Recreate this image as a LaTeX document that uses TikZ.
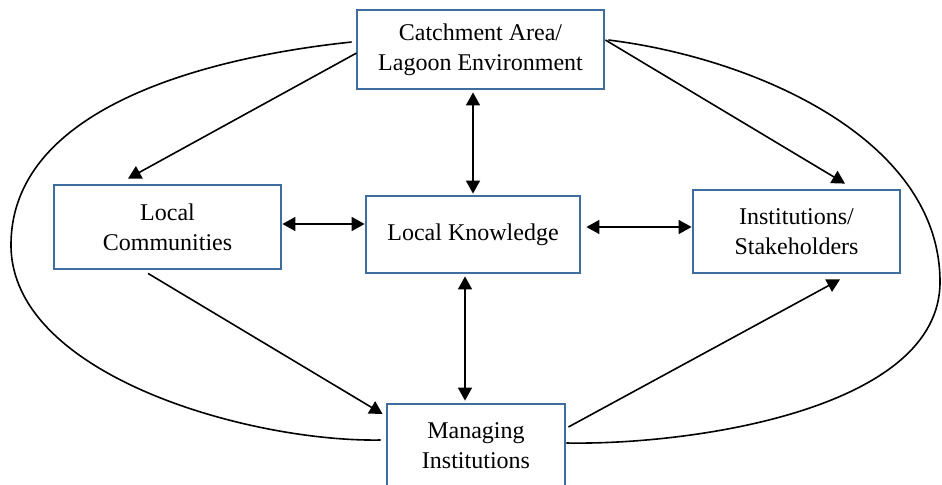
\documentclass[tikz,border=0pt]{standalone}
\usepackage{fontspec}
\setmainfont{Liberation Serif}
\usetikzlibrary{arrows.meta,calc}

\definecolor{boxblue}{RGB}{62,110,158}
\tikzset{
    block/.style={draw=boxblue, line width=1.4pt, align=center, inner sep=0pt,
        font=\fontsize{12}{15}\selectfont},
    link/.style={line width=0.8pt, -{Triangle[length=6.5pt,width=7pt]}},
    twoway/.style={line width=0.8pt, {Triangle[length=6.5pt,width=7pt]}-{Triangle[length=6.5pt,width=7pt]}},
    loop/.style={line width=0.8pt}
}

\begin{document}
\begin{tikzpicture}[x=0.5pt,y=-0.5pt]
            \useasboundingbox (0,0) rectangle (942,484);

            % Boxes
            \node [block, minimum width=123.5pt, minimum height=39.5pt] (cat)  at (480.5,49.5) {Catchment Area/\\Lagoon Environment};
            \node [block, minimum width=113.5pt, minimum height=42pt]   (lc)   at (167.5,227)  {Local\\Communities};
            \node [block, minimum width=107pt,   minimum height=38.5pt] (lk)   at (473,234.5)  {Local Knowledge};
            \node [block, minimum width=103.5pt, minimum height=41.5pt] (inst) at (796.5,231.5) {Institutions/\\Stakeholders};
            \node [block, minimum width=89pt,    minimum height=42pt]   (mi)   at (476,446)    {Managing\\Institutions};

            % Arrows
            \draw [link]   ($(cat.west)+(1,3.5)$)   -- ($(lc.north)+(-39.5,-5)$);
            \draw [link]   ($(cat.east)+(0,-9.5)$)  -- ($(inst.north)+(48.5,-5)$);
            \draw [twoway] ($(cat.south)+(-7.5,2)$) -- ($(lk.north)+(0,-1)$);
            \draw [twoway] ($(lc.east)+(0,-3)$)     -- ($(lk.west)+(0,-10.5)$);
            \draw [twoway] ($(lk.east)+(5,-7.5)$)   -- ($(inst.west)+(0,-4.5)$);
            \draw [twoway] ($(lk.south)+(-8,2)$)    -- ($(mi.north)+(-11,-2)$);
            \draw [link]   ($(lc.south)+(-19.5,3)$) -- ($(mi.west)+(-3,-32)$);
            \draw [link]   ($(mi.east)+(2,-19)$)    -- ($(inst.south)+(43.5,5)$);

            % Outer loops
            \coordinate (lt) at (11,245);
            \coordinate (rt) at (940,282);
            \draw [loop] ($(cat.west)+(-4,-7.5)$) to[out=186,in=90,looseness=0.9] (lt)
                         to[out=-90,in=181,looseness=0.8] ($(mi.west)+(-5,-6)$);
            \draw [loop] ($(cat.east)+(3,-9.5)$) to[out=-7,in=90,looseness=0.9] (rt)
                         to[out=-90,in=-1,looseness=0.8] ($(mi.east)+(0,-3)$);
        \end{tikzpicture}
\end{document}
